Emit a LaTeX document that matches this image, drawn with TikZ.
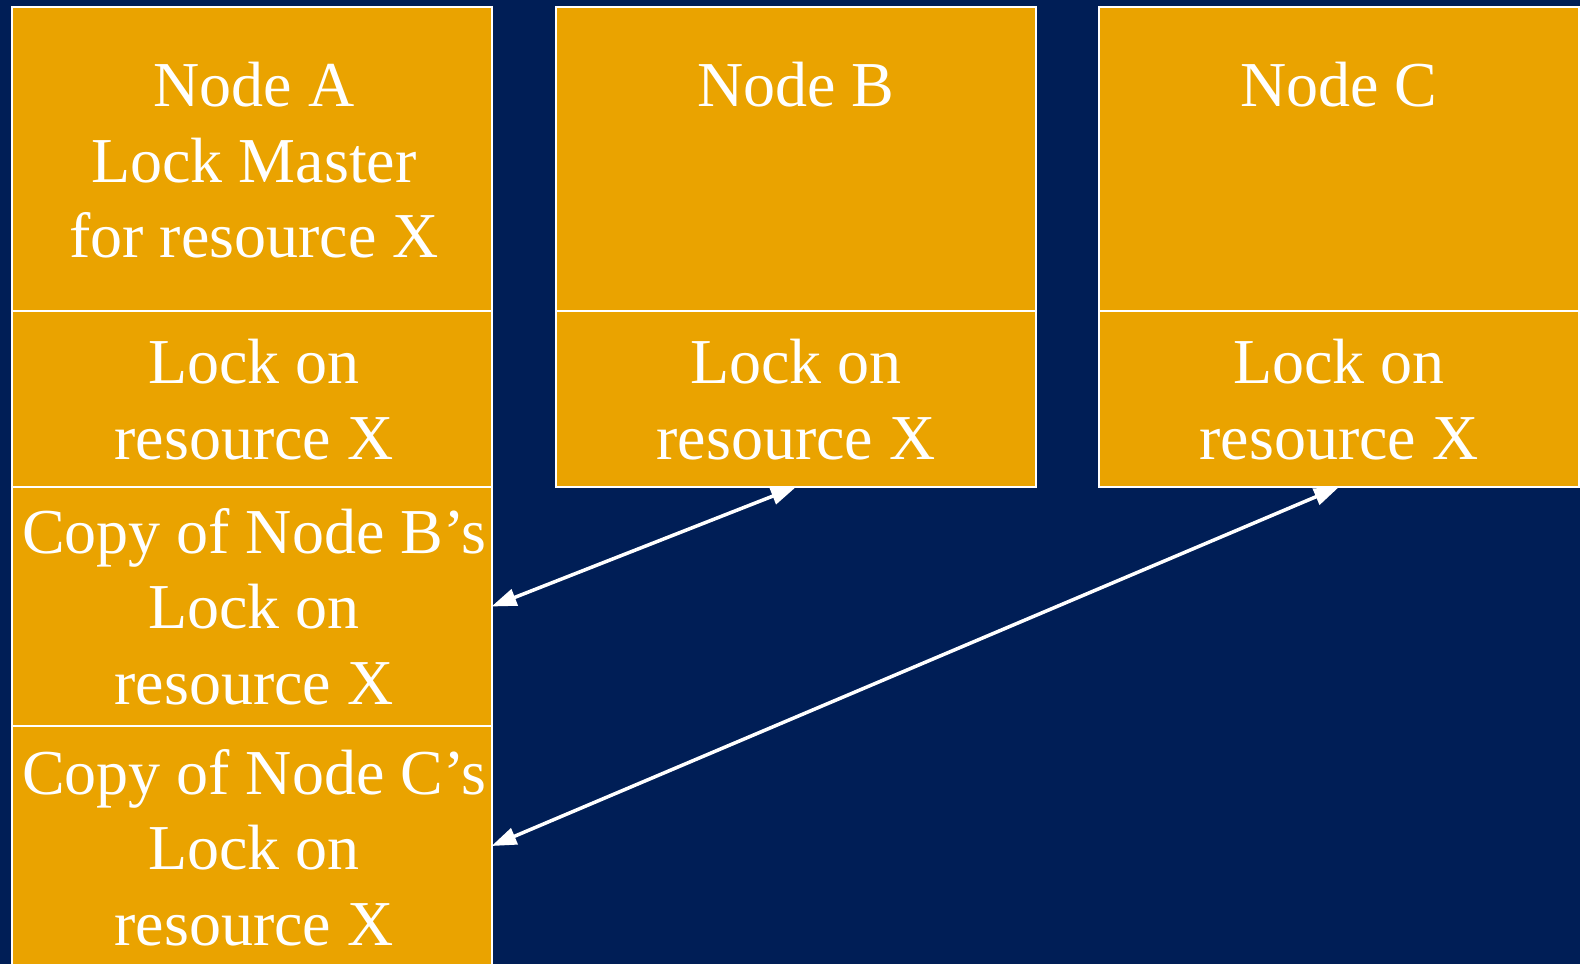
\documentclass[tikz,border=0pt]{standalone}
\usepackage{fontspec}
\setmainfont{Liberation Serif}
\usetikzlibrary{arrows.meta}
\definecolor{navy}{RGB}{0,30,86}
\definecolor{gold}{RGB}{234,163,0}
\begin{document}
\begin{tikzpicture}[x=1pt,y=-1pt,
  cell/.style={draw=white, line width=2pt, fill=gold, inner sep=0pt, outer sep=0pt,
               minimum width=480pt},
  celltext/.style={text=white, font=\fontsize{64}{75.5}\selectfont, align=center,
                   inner sep=0pt, outer sep=0pt, anchor=north},
  duplex/.style={white, line width=3.5pt,
                 {Triangle[length=25pt,width=17pt]}-{Triangle[length=25pt,width=17pt]}}]
  % canvas
  \useasboundingbox (0,0) rectangle (1580,964);
  \fill[navy] (0,0) rectangle (1580,964);
  \begin{scope}
    \clip (0,0) rectangle (1580,964);
    % Node A column
    \node[cell, minimum height=304.5pt] (aTop)   at (251.5,158.75) {};
    \node[cell, minimum height=176pt]   (aLock)  at (251.5,399) {};
    \node[cell, minimum height=239pt]   (aCopyB) at (251.5,606.5) {};
    \node[cell, minimum height=240pt]   (aCopyC) at (251.5,846) {};
    % Node B column
    \node[cell, minimum height=304.5pt] (bTop)   at (796,158.75) {};
    \node[cell, minimum height=176pt]   (bLock)  at (796,399) {};
    % Node C column
    \node[cell, minimum height=304.5pt] (cTop)   at (1339,158.75) {};
    \node[cell, minimum height=176pt]   (cLock)  at (1339,399) {};

    % texts
    \node[celltext] (aTopT)   at (254,62.2)  {Node A\\Lock Master\\for resource X};
    \node[celltext] (aLockT)  at (254,339.2) {Lock on\\resource X};
    \node[celltext] (aCopyBT) at (254,508.2) {Copy of Node B’s\\Lock on\\resource X};
    \node[celltext] (aCopyCT) at (254,749.2) {Copy of Node C’s\\Lock on\\resource X};
    \node[celltext] (bTopT)   at (796,62.2)    {Node B};
    \node[celltext] (bLockT)  at (796,339.2)   {Lock on\\resource X};
    \node[celltext] (cTopT)   at (1339,62.2)   {Node C};
    \node[celltext] (cLockT)  at (1339,339.2)  {Lock on\\resource X};

    % lock copies
    \draw[duplex] (bLock.south) -- (aCopyB.east);
    \draw[duplex] (cLock.south) -- (aCopyC.east);
  \end{scope}
\end{tikzpicture}
\end{document}
